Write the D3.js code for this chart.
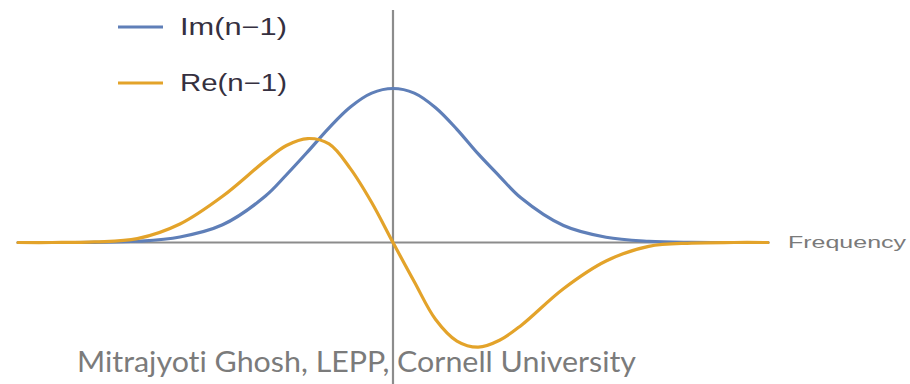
<!DOCTYPE html>
<html>
<head>
<meta charset="utf-8">
<script src="https://cdn.jsdelivr.net/npm/d3@7"></script>
<style>
  html, body { margin: 0; padding: 0; background: #ffffff; }
  svg { display: block; }
  text { font-variant-ligatures: none; }
</style>
</head>
<body>
<svg id="chart" width="910" height="384"></svg>
<script>
// Frequency offset (in units of the line width) and the two components of n-1
const freq   = [-4.4, -4.0, -3.5, -3.0, -2.5, -2.0, -1.5, -1.25, -1.0, -0.75, -0.5, -0.25, 0, 0.25, 0.5, 0.75, 1.0, 1.25, 1.5, 2.0, 2.5, 3.0, 3.5, 4.0, 4.4];
const imVals = [0, 0, 0.001, 0.008, 0.036, 0.115, 0.30, 0.44, 0.59, 0.745, 0.88, 0.97, 1.0, 0.97, 0.875, 0.735, 0.575, 0.43, 0.29, 0.11, 0.034, 0.008, 0.001, 0, 0];
const reVals = [0, 0, 0.004, 0.025, 0.12, 0.30, 0.53, 0.63, 0.675, 0.64, 0.48, 0.26, 0, -0.255, -0.5, -0.64, -0.68, -0.635, -0.54, -0.30, -0.12, -0.025, -0.004, 0, 0];

const seriesNames = ["Im(n\u22121)", "Re(n\u22121)"];
const seriesColors = ["#5f7fb8", "#e3a32a"];
const axisTitle = "Frequency";
const credit = "Mitrajyoti Ghosh, LEPP, Cornell University";

const svg = d3.select("#chart");

const x = d3.scaleLinear().domain([-4.4, 4.4]).range([18, 768]);
const y = d3.scaleLinear().domain([0, 1]).range([242.5, 88.5]);

// axes: plain crossing lines without ticks
const axisColor = "#8c8c8c";
svg.append("line")
  .attr("x1", x(-4.4)).attr("x2", x(4.4))
  .attr("y1", y(0)).attr("y2", y(0))
  .attr("stroke", axisColor).attr("stroke-width", 2.2);

svg.append("text")
  .attr("x", x(4.4) + 20).attr("y", y(0) + 5)
  .attr("font-family", "Liberation Sans, Arial, sans-serif")
  .attr("font-size", 16)
  .attr("fill", "#7a7a7a")
  .attr("textLength", 118).attr("lengthAdjust", "spacingAndGlyphs")
  .text(axisTitle);

// credit line sits under the vertical axis
svg.append("text")
  .attr("x", 77).attr("y", 372)
  .attr("font-family", "Lato, 'Noto Sans', sans-serif")
  .attr("font-size", 29)
  .attr("fill", "#7b7b7b")
  .attr("textLength", 559).attr("lengthAdjust", "spacingAndGlyphs")
  .text(credit);

svg.append("line")
  .attr("x1", x(0)).attr("x2", x(0))
  .attr("y1", y(1.51)).attr("y2", 384)
  .attr("stroke", axisColor).attr("stroke-width", 2.2);

const line = d3.line()
  .x((d, i) => x(freq[i]))
  .y(d => y(d))
  .curve(d3.curveCatmullRom.alpha(0.5));

const series = [imVals, reVals];
svg.selectAll("path.series")
  .data(series)
  .join("path")
  .attr("class", "series")
  .attr("d", d => line(d))
  .attr("fill", "none")
  .attr("stroke", (d, i) => seriesColors[i])
  .attr("stroke-width", 3.2)
  .attr("stroke-linecap", "round");

// legend
const legend = svg.append("g");
const rows = legend.selectAll("g")
  .data(seriesNames)
  .join("g")
  .attr("transform", (d, i) => `translate(0, ${27 + i * 56})`);

rows.append("line")
  .attr("x1", 118).attr("x2", 163)
  .attr("y1", 0).attr("y2", 0)
  .attr("stroke", (d, i) => seriesColors[i])
  .attr("stroke-width", 3);

rows.append("text")
  .attr("x", 180).attr("y", 8)
  .attr("font-family", "Liberation Sans, Arial, sans-serif")
  .attr("font-size", 23)
  .attr("fill", "#353040")
  .attr("textLength", 107).attr("lengthAdjust", "spacingAndGlyphs")
  .text(d => d);
</script>
</body>
</html>
